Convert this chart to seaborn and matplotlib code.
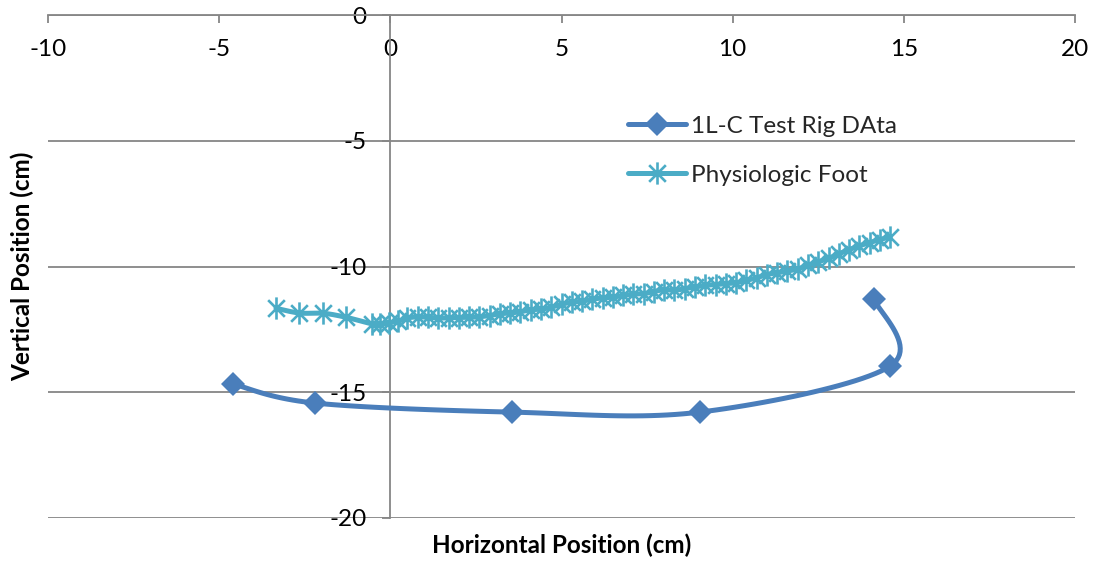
import numpy as np
import matplotlib
matplotlib.use("Agg")
import matplotlib.pyplot as plt
from matplotlib.path import Path
from matplotlib.lines import Line2D
import seaborn as sns

# 1L-C test rig trajectory (cm)
rig_x = [-4.60, -2.20, 3.55, 9.04, 14.60, 14.13]
rig_y = [-14.67, -15.43, -15.79, -15.79, -13.96, -11.29]

# Physiologic foot trajectory (cm)
foot_x = [-3.34, -2.66, -1.96, -1.29, -0.54, -0.30, -0.05, 0.22, 0.50, 0.80,
          1.10, 1.40, 1.70, 2.00, 2.30, 2.60, 2.90, 3.20, 3.50, 3.80,
          4.10, 4.40, 4.70, 5.00, 5.30, 5.60, 5.90, 6.20, 6.50, 6.80,
          7.10, 7.40, 7.70, 8.00, 8.30, 8.60, 8.90, 9.20, 9.50, 9.80,
          10.10, 10.40, 10.70, 11.00, 11.30, 11.60, 11.90, 12.20, 12.50, 12.80,
          13.10, 13.40, 13.70, 14.00, 14.30, 14.60]
foot_y = [-11.66, -11.85, -11.86, -12.02, -12.28, -12.30, -12.24, -12.18, -12.05, -12.00,
          -12.02, -12.05, -12.04, -12.03, -12.02, -12.00, -11.95, -11.88, -11.85, -11.80,
          -11.72, -11.70, -11.62, -11.50, -11.42, -11.38, -11.30, -11.25, -11.22, -11.15,
          -11.10, -11.08, -11.00, -10.92, -10.95, -10.88, -10.82, -10.75, -10.72, -10.68,
          -10.65, -10.55, -10.45, -10.32, -10.25, -10.18, -10.10, -9.95, -9.82, -9.68,
          -9.50, -9.33, -9.18, -9.05, -8.93, -8.82]

series_names = ["1L-C Test Rig DAta", "Physiologic Foot"]
x_ticks = [-10, -5, 0, 5, 10, 15, 20]
y_ticks = [-20, -15, -10, -5, 0]

BLUE = "#4A7EBB"
CYAN = "#4BACC6"
GRID = "#868686"
FS = 17.5


def smooth(xs, ys, n=24):
    """Catmull-Rom style Bezier smoothing through the given points."""
    p = np.column_stack([xs, ys]).astype(float)
    out = [p[0]]
    for i in range(len(p) - 1):
        p0 = p[i - 1] if i > 0 else p[i]
        p1, p2 = p[i], p[i + 1]
        p3 = p[i + 2] if i + 2 < len(p) else p[i + 1]
        c1 = p1 + (p2 - p0) / 6.0
        c2 = p2 - (p3 - p1) / 6.0
        t = np.linspace(0, 1, n)[1:, None]
        seg = ((1 - t) ** 3) * p1 + 3 * ((1 - t) ** 2) * t * c1 \
            + 3 * (1 - t) * t ** 2 * c2 + t ** 3 * p2
        out.extend(seg)
    out = np.array(out)
    return out[:, 0], out[:, 1]


star = Path([(0, -1), (0, 1), (-0.75, -0.75), (0.75, 0.75), (-0.75, 0.75), (0.75, -0.75)],
            [Path.MOVETO, Path.LINETO, Path.MOVETO, Path.LINETO, Path.MOVETO, Path.LINETO])

sns.set_theme(style="white")
plt.rcParams["font.family"] = ["Lato", "DejaVu Sans"]

fig = plt.figure(figsize=(10.95, 5.62), dpi=100)
ax = fig.add_axes([48 / 1095, 1 - 518 / 562, (1075 - 48) / 1095, (518 - 15) / 562])

# Test rig: smoothed line then diamond markers
sx, sy = smooth(rig_x, rig_y)
sns.lineplot(x=sx, y=sy, sort=False, estimator=None, color=BLUE, lw=3.6, ax=ax,
             zorder=3, solid_capstyle="round")
sns.lineplot(x=rig_x, y=rig_y, sort=False, estimator=None, color=BLUE, ax=ax,
             linestyle="none", marker="D", markersize=12, markeredgewidth=0,
             markerfacecolor=BLUE, zorder=4)

# Physiologic foot: smoothed line then star markers
fx, fy = smooth(foot_x, foot_y)
sns.lineplot(x=fx, y=fy, sort=False, estimator=None, color=CYAN, lw=3.6, ax=ax,
             zorder=5, solid_capstyle="round")
sns.lineplot(x=foot_x, y=foot_y, sort=False, estimator=None, color=CYAN, ax=ax,
             linestyle="none", marker=star, markersize=16, markeredgewidth=1.9,
             markeredgecolor=CYAN, markerfacecolor="none", zorder=6)

ax.set_xlim(-10, 20)
ax.set_ylim(-20, 0)
ax.set_xticks(x_ticks)
ax.set_yticks(y_ticks)
ax.set_xticklabels([str(v) for v in x_ticks])
ax.set_yticklabels([str(v) for v in y_ticks])

for side in ("top", "right"):
    ax.spines[side].set_visible(False)
ax.spines["bottom"].set_position(("data", 0))
ax.spines["left"].set_position(("data", 0))
for side in ("bottom", "left"):
    ax.spines[side].set_color(GRID)
    ax.spines[side].set_linewidth(1.3)
    ax.spines[side].set_zorder(2)

ax.yaxis.grid(True, color=GRID, lw=1.3, zorder=1)
ax.xaxis.grid(False)
ax.set_axisbelow(True)

ax.tick_params(axis="x", direction="out", length=6, width=1.3, color=GRID,
               labelsize=FS, pad=11, labelcolor="black", bottom=True)
ax.tick_params(axis="y", direction="out", length=6, width=1.3, color=GRID,
               labelsize=FS, pad=11, labelcolor="black", left=True)

ax.set_xlabel("Horizontal Position (cm)", fontsize=FS, fontweight="bold", color="black")
ax.set_ylabel("Vertical Position (cm)", fontsize=FS, fontweight="bold", color="black")
ax.xaxis.set_label_coords(0.5, -0.03)
ax.yaxis.set_label_coords(-0.013, 0.5)

handles = [
    Line2D([], [], color=BLUE, lw=3.6, marker="D", markersize=12, markeredgewidth=0,
           solid_capstyle="round"),
    Line2D([], [], color=CYAN, lw=3.6, marker=star, markersize=16, markeredgewidth=1.9,
           markerfacecolor="none", solid_capstyle="round"),
]
ax.legend(handles, series_names, loc="upper left", bbox_to_anchor=(0.5648, 0.800),
          frameon=False, fontsize=FS, handlelength=2.4, handletextpad=0.2,
          borderpad=0, borderaxespad=0, labelspacing=1.15)

fig.savefig("out.png", dpi=100, facecolor="white")
